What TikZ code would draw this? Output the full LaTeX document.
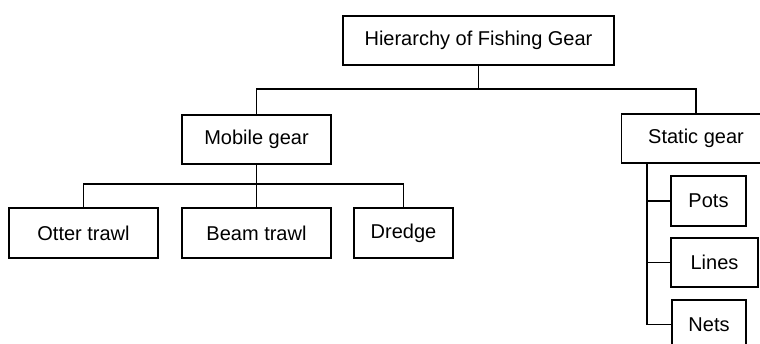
\documentclass[tikz,border=0pt]{standalone}
\usepackage{fontspec}
\setmainfont{Liberation Sans}
\usepackage{tikz}

\begin{document}
\begin{tikzpicture}[x=0.5pt,y=-0.5pt,line width=0.6pt,
every node/.style={draw,inner sep=0pt,font=\fontsize{10}{12}\selectfont},
gearbox/.style={minimum height=24.5pt}]
\useasboundingbox (0,0) rectangle (760,343);
\clip (0,0) rectangle (760,343);
\def\bigw{74.5pt}

%levels of the hierarchy
\node[gearbox,minimum width=135.5pt](top) at (478.5,40.5) {Hierarchy of Fishing Gear};
\node[gearbox,minimum width=\bigw](mobile) at (256.5,139.5) {Mobile gear};
\node[gearbox,minimum width=\bigw](static) at (696,138.5) {Static gear};

%mobile gear
\node[gearbox,minimum width=\bigw,minimum height=25pt](otter) at (83.5,233) {Otter trawl};
\node[gearbox,minimum width=\bigw,minimum height=25pt](beam) at (256.5,233) {Beam trawl};
\node[gearbox,minimum width=49.5pt,minimum height=25pt](dredge) at (403.5,233) {Dredge};

%static gear
\node[gearbox,minimum width=37.5pt,minimum height=25pt](pots) at (708.5,201) {Pots};
\node[gearbox,minimum width=43.5pt](lines) at (714.5,262.5) {Lines};
\node[gearbox,minimum width=37pt](nets) at (709,324.5) {Nets};

%forks
\coordinate(topfork) at (478.5,89);
\coordinate(mobfork) at (256.5,184);
\coordinate(rail) at (647,163.5);

\draw (top) -- (topfork);
\draw (mobile.north) |- (topfork) -| (static.north);
\draw (mobile) -- (beam);
\draw (otter.north) |- (mobfork) -| (dredge.north);
\draw (rail) |- (nets.west);
\foreach \x in {pots,lines}{
	\draw (\x.west) -- (\x.west -| rail);
}
\end{tikzpicture}
\end{document}
